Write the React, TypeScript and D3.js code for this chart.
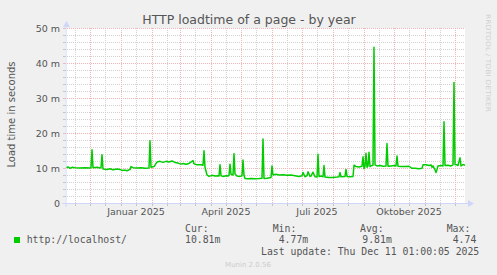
import React from "react";
import * as d3 from "d3";

// ---- data (day offset from graph start, value in milliseconds) ----
const dayOffsets: number[] = [
  1, 3, 5, 7, 10, 15, 20, 25, 26, 27, 28, 32, 35, 36, 37, 38, 42, 45, 48, 52, 55, 57, 60, 62, 65, 66, 68, 72, 76, 80, 84, 85, 86, 89,
  92, 95, 98, 101, 104, 107, 110, 113, 116, 118, 121, 124, 128, 129, 132, 136, 138, 139, 140, 142, 144, 147, 150, 153, 154, 155, 156,
  158, 161, 163, 164, 165, 166, 168, 169, 170, 172, 175, 177, 178, 179, 180, 183, 186, 190, 194, 197, 198, 199, 202, 206, 207, 208,
  211, 214, 218, 222, 226, 230, 234, 237, 238, 240, 242, 243, 245, 246, 248, 250, 252, 253, 254, 256, 258, 259, 260, 264, 268, 272,
  274, 275, 276, 280, 281, 282, 285, 288, 289, 291, 294, 297, 298, 299, 300, 301, 302, 303, 304, 305, 306, 308, 309, 310, 312, 315,
  318, 321, 322, 323, 326, 329, 331, 332, 333, 336, 340, 344, 347, 350, 354, 357, 358, 361, 364, 366, 367, 368, 370, 371, 372, 373,
  376, 378, 379, 380, 383, 386, 388, 389, 390, 392, 393, 395, 396, 398, 400,
];
const loadMs: number[] = [
  10.1, 10.3, 9.9, 10.2, 10.1, 10.0, 10.1, 10.0, 10.1, 15.2, 10.1, 10.2, 10.0, 10.1, 13.8, 9.7, 9.6, 9.8, 9.5, 9.7, 9.6, 9.3, 9.4, 9.2, 9.6, 10.4, 10.1, 10.0, 10.1, 9.9, 10.0, 17.8, 10.2, 10.4,
  11.7, 11.9, 11.6, 11.9, 11.7, 12.0, 11.6, 11.4, 11.1, 11.3, 11.1, 11.3, 12.1, 11.2, 10.9, 10.9, 10.8, 14.9, 10.2, 8.0, 7.6, 7.9, 7.7, 7.8, 7.7, 10.9, 7.8,
  7.6, 7.8, 7.7, 7.9, 11.1, 8.2, 8.0, 14.1, 8.3, 7.7, 7.6, 7.8, 12.3, 7.9, 7.0, 6.9, 7.0, 6.9, 7.0, 7.1, 18.3, 7.0, 7.1, 7.3, 10.6, 8.0,
  8.2, 8.0, 8.1, 7.9, 8.0, 7.8, 7.6, 7.8, 8.7, 7.5, 7.8, 8.9, 7.6, 7.7, 8.8, 7.5, 7.4, 13.9, 7.6, 7.7, 7.5, 10.7, 7.4, 7.3, 7.3, 7.4,
  7.5, 8.7, 7.5, 7.6, 9.6, 7.6, 7.5, 7.6, 10.8, 10.4, 10.3, 10.5, 13.2, 9.8, 10.5, 14.2, 10.2, 10.6, 14.5, 10.4, 10.6, 10.8, 44.5, 10.9, 10.6, 10.7,
  10.5, 10.6, 17.0, 10.5, 10.6, 10.7, 10.6, 13.4, 10.5, 10.4, 10.4, 10.5, 9.9, 9.9, 9.8, 9.9, 10.9, 10.9, 10.7, 10.9, 10.2, 10.6, 9.5, 8.7, 9.6, 10.6,
  10.7, 10.6, 23.2, 10.7, 10.8, 10.6, 10.9, 34.4, 11.0, 10.9, 10.7, 12.9, 10.6, 11.0, 10.81,
];
const yTicks: number[] = [0, 10, 20, 30, 40, 50];
const yTickLabels: string[] = ["0", "10 m", "20 m", "30 m", "40 m", "50 m"];
const monthLabels: string[] = ["Januar 2025", "April 2025", "Juli 2025", "Oktober 2025"];
const monthLabelDates: string[] = ["2025-01-16", "2025-04-16", "2025-07-16", "2025-10-16"];
const legendName = "http://localhost/";
const legendHeaders: string[] = ["Cur:", "Min:", "Avg:", "Max:"];
const legendValues: string[] = ["10.81m", "4.77m", "9.81m", "4.74"];

const DAY = 86400000;
const END = Date.UTC(2025, 11, 11, 0, 0, 5);
const START = END - 400 * DAY;

export default function App() {
  const x = d3.scaleTime().domain([new Date(START), new Date(END)]).range([65, 465]);
  const y = d3.scaleLinear().domain([0, 50]).range([203, 28]);

  const pts = dayOffsets.map((d, i) => ({ t: new Date(START + d * DAY), v: loadMs[i] }));
  const line = d3
    .line<{ t: Date; v: number }>()
    .x((p) => x(p.t))
    .y((p) => y(p.v));

  const monthStarts = d3.utcMonth.range(new Date(START), new Date(END));
  const monthMids = monthStarts
    .map((m) => new Date(Date.UTC(m.getUTCFullYear(), m.getUTCMonth(), 16)))
    .concat([new Date(Date.UTC(2024, 10, 16))])
    .filter((m) => m.getTime() > START && m.getTime() < END);
  const minorY = d3.range(0, 51, 2).filter((v) => v % 10 !== 0);

  const sans = "'DejaVu Sans', sans-serif";
  const mono = "'DejaVu Sans Mono', monospace";
  const axisColor = "#CFD6F8";
  const fontColor = "#555555";
  const majorGrid = "#F2B4B4";
  const minorGrid = "#D2D2D2";

  const colX = [185, 272.7, 360, 446.7];
  const valX = [185, 278.7, 362.3, 452.7];

  return (
    <svg width={497} height={275} style={{ position: "absolute", left: 0, top: 0 }}>
      <rect x={0} y={0} width={497} height={275} fill="#F0F0F0" />
      <rect x={65} y={28} width={400} height={175} fill="#FFFFFF" />

      {/* minor grid */}
      {minorY.map((v) => (
        <line key={"my" + v} x1={65} x2={465} y1={y(v) + 0.5} y2={y(v) + 0.5} stroke={minorGrid} strokeDasharray="1,1" strokeWidth={1} />
      ))}
      {monthMids.map((m) => (
        <line key={"mx" + m.getTime()} x1={Math.round(x(m)) + 0.5} x2={Math.round(x(m)) + 0.5} y1={28} y2={203} stroke={minorGrid} strokeDasharray="1,1" strokeWidth={1} />
      ))}
      {/* major grid */}
      {yTicks.filter((v) => v > 0).map((v) => (
        <line key={"My" + v} x1={65} x2={465} y1={y(v) + 0.5} y2={y(v) + 0.5} stroke={majorGrid} strokeDasharray="1,1" strokeWidth={1} />
      ))}
      {monthStarts.map((m) => (
        <line key={"Mx" + m.getTime()} x1={Math.round(x(m)) + 0.5} x2={Math.round(x(m)) + 0.5} y1={28} y2={203} stroke={majorGrid} strokeDasharray="1,1" strokeWidth={1} />
      ))}

      {/* axis ticks */}
      {d3.range(0, 51, 2).map((v) => (
        <line key={"ty" + v} x1={63} x2={66} y1={y(v) + 0.5} y2={y(v) + 0.5} stroke={v % 10 === 0 ? majorGrid : "#C4C4C4"} strokeWidth={1} />
      ))}
      {monthStarts.concat(monthMids).map((m) => (
        <line key={"tx" + m.getTime()} x1={Math.round(x(m)) + 0.5} x2={Math.round(x(m)) + 0.5} y1={203} y2={206} stroke="#C4C4C4" strokeWidth={1} />
      ))}

      {/* data line */}
      <path d={line(pts) || ""} fill="none" stroke="#00CC00" strokeWidth={1.5} strokeLinejoin="round" />

      {/* axes */}
      <line x1={66} x2={66} y1={207} y2={24} stroke={axisColor} strokeWidth={1} />
      <path d="M63,27 L66.5,21 L70,27 Z" fill={axisColor} />
      <line x1={62} x2={470} y1={203.5} y2={203.5} stroke={axisColor} strokeWidth={1} />
      <path d="M468,200 L474,203.5 L468,207 Z" fill={axisColor} />

      {/* y labels */}
      {yTicks.map((v, i) => (
        <text key={"yl" + v} x={60} y={y(v) + 3.5} textAnchor="end" fontFamily={sans} fontSize={9.5} fill={fontColor}>
          {yTickLabels[i]}
        </text>
      ))}
      {/* x labels */}
      {monthLabels.map((l, i) => (
        <text key={l} x={x(new Date(monthLabelDates[i] + "T00:00:00Z"))} y={215} textAnchor="middle" fontFamily={sans} fontSize={9.5} fill={fontColor}>
          {l}
        </text>
      ))}

      {/* title */}
      <text x={249} y={24} textAnchor="middle" fontFamily={sans} fontSize={12.5} fill={fontColor}>
        HTTP loadtime of a page - by year
      </text>
      {/* y axis title */}
      <text transform="translate(14.5,114.5) rotate(-90)" textAnchor="middle" fontFamily={sans} fontSize={10} fill={fontColor}>
        Load time in seconds
      </text>
      {/* rrdtool watermark */}
      <text transform="translate(486,14) rotate(90)" fontFamily={sans} fontSize={6.5} fill="#D0D0D0" textLength={98} lengthAdjust="spacingAndGlyphs">
        RRDTOOL / TOBI OETIKER
      </text>

      {/* legend */}
      <rect x={14} y={237} width={6} height={6} fill="#00CC00" />
      <text x={26.7} y={242.7} fontFamily={mono} fontSize={9.8} fill={fontColor}>
        {legendName}
      </text>
      {legendHeaders.map((h, i) => (
        <text key={h} x={colX[i]} y={231.5} fontFamily={mono} fontSize={9.8} fill={fontColor}>
          {h}
        </text>
      ))}
      {legendValues.map((v, i) => (
        <text key={"lv" + i} x={valX[i]} y={242.7} fontFamily={mono} fontSize={9.8} fill={fontColor}>
          {v}
        </text>
      ))}
      <text x={261} y={255} fontFamily={mono} fontSize={9.8} fill={fontColor}>
        Last update: Thu Dec 11 01:00:05 2025
      </text>
      <text x={248} y={267} textAnchor="middle" fontFamily={sans} fontSize={7} fill="#CCCCCC">
        Munin 2.0.56
      </text>
    </svg>
  );
}
